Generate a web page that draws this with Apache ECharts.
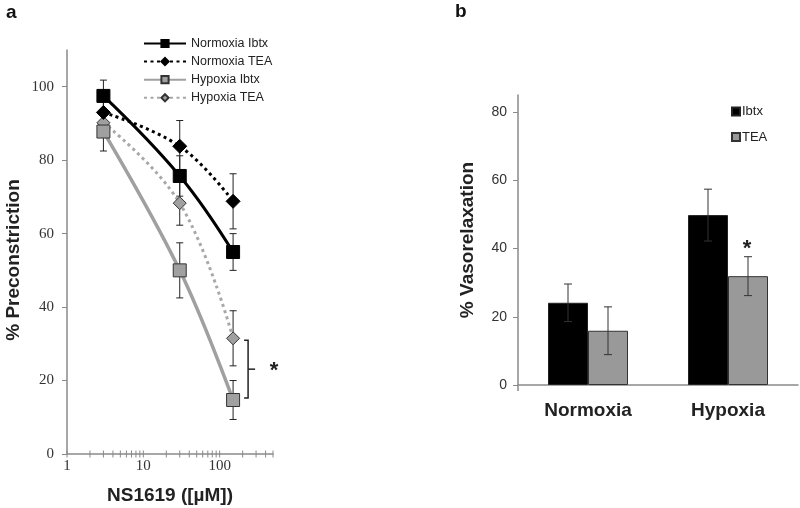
<!DOCTYPE html>
<html>
<head>
<meta charset="utf-8">
<script src="https://cdn.jsdelivr.net/npm/echarts@6/dist/echarts.min.js"></script>
<style>html,body{margin:0;padding:0;background:#fff}#c{width:800px;height:508px}</style>
</head>
<body>
<div id="c"></div>
<script>
// ---- Panel a data ----
const doses = [3, 30, 150];
const normIbtx = [97.5, 75.7, 55.0];
const normIbtxErr = [4.3, 5.5, 5.0];
const normTEA = [93.0, 83.8, 68.8];
const normTEAErr = [3.0, 7.0, 7.5];
const hypIbtx = [87.8, 50.0, 14.7];
const hypIbtxErr = [5.3, 7.5, 5.3];
const hypTEA = [90.2, 68.3, 31.5];
const hypTEAErr = [3.5, 6.0, 7.5];
const xMajorTicks = [1, 10, 100];
const xMinorTicks = [2,3,4,5,6,7,8,9,20,30,40,50,60,70,80,90,200,300,400,500];
const yTicksA = [0, 20, 40, 60, 80, 100];

// ---- Panel b data ----
const groups = ['Normoxia', 'Hypoxia'];
const ibtx = [24.1, 49.8];
const ibtxErr = [5.5, 7.6];
const tea = [15.9, 31.9];
const teaErr = [7.0, 5.7];
const yTicksB = [0, 20, 40, 60, 80];

const GRAY = '#a0a0a0';
const AXIS = '#8a8a8a';
const sans = 'Liberation Sans, Arial, sans-serif';

function pts(vals) { return doses.map((d, i) => [d, vals[i]]); }
function errs(vals, e) { return doses.map((d, i) => [d, vals[i] - e[i], vals[i] + e[i]]); }

function errRender(params, api) {
  const x = api.value(0), lo = api.value(1), hi = api.value(2);
  const a = api.coord([x, lo]), b = api.coord([x, hi]);
  const w = 3.5;
  const st = { stroke: '#222', lineWidth: 1 };
  return { type: 'group', children: [
    { type: 'line', shape: { x1: a[0], y1: a[1], x2: b[0], y2: b[1] }, style: st },
    { type: 'line', shape: { x1: a[0] - w, y1: a[1], x2: a[0] + w, y2: a[1] }, style: st },
    { type: 'line', shape: { x1: b[0] - w, y1: b[1], x2: b[0] + w, y2: b[1] }, style: st }
  ]};
}

function barErrRender(offset) {
  return function (params, api) {
    const c = api.value(0), lo = api.value(1), hi = api.value(2);
    const a = api.coord([c, lo]), b = api.coord([c, hi]);
    const x = a[0] + offset, w = 4;
    const st = { stroke: '#333', lineWidth: 1 };
    return { type: 'group', children: [
      { type: 'line', shape: { x1: x, y1: a[1], x2: x, y2: b[1] }, style: st },
      { type: 'line', shape: { x1: x - w, y1: a[1], x2: x + w, y2: a[1] }, style: st },
      { type: 'line', shape: { x1: x - w, y1: b[1], x2: x + w, y2: b[1] }, style: st }
    ]};
  };
}

const chart = echarts.init(document.getElementById('c'), null, { renderer: 'canvas' });

const option = {
  animation: false,
  backgroundColor: '#fff',
  grid: [
    { left: 67, top: 50, width: 206, height: 404, outerBoundsMode: 'none', containLabel: false },
    { left: 518, top: 95, width: 280, height: 290, outerBoundsMode: 'none', containLabel: false }
  ],
  legend: [
    {
      data: ['Normoxia Ibtx', 'Normoxia TEA', 'Hypoxia Ibtx', 'Hypoxia TEA'],
      orient: 'vertical', left: 138, top: 32, itemWidth: 42, itemHeight: 9, itemGap: 5.1,
      textStyle: { fontFamily: sans, fontSize: 12.5, color: '#222' }
    },
    {
      data: ['Ibtx', 'TEA'],
      orient: 'vertical', left: 726, top: 100, itemWidth: 8, itemHeight: 8, itemGap: 12.5, icon: 'rect',
      textStyle: { fontFamily: sans, fontSize: 13, color: '#222', padding: [0, 0, 0, -3] }
    }
  ],
  xAxis: [
    {
      gridIndex: 0, type: 'log', logBase: 10, min: 1, max: 500,
      name: 'NS1619 ([µM])', nameLocation: 'middle', nameGap: 32,
      nameTextStyle: { fontFamily: sans, fontWeight: 'bold', fontSize: 19, color: '#222' },
      axisLine: { lineStyle: { color: AXIS, width: 1.5 } },
      axisTick: { show: false },
      splitLine: { show: false },
      axisLabel: {
        margin: 5, fontFamily: 'Liberation Serif, serif', fontSize: 15, color: '#333',
        formatter: v => xMajorTicks.includes(Math.round(v)) ? String(Math.round(v)) : ''
      }
    },
    {
      gridIndex: 1, type: 'category', data: groups,
      axisLine: { lineStyle: { color: AXIS, width: 1.5 } },
      axisTick: { show: false },
      axisLabel: { margin: 16, fontFamily: sans, fontWeight: 'bold', fontSize: 19, color: '#222' }
    }
  ],
  yAxis: [
    {
      gridIndex: 0, type: 'value', min: 0, max: 110, interval: 20,
      name: '% Preconstriction', nameLocation: 'middle', nameGap: 44, nameRotate: 90,
      nameTextStyle: { fontFamily: sans, fontWeight: 'bold', fontSize: 19, color: '#222', padding: [0, 16, 0, 0] },
      axisLine: { show: true, lineStyle: { color: AXIS, width: 1.5 } },
      axisTick: { show: true, length: 5, lineStyle: { color: AXIS }, customValues: yTicksA },
      splitLine: { show: false },
      axisLabel: {
        margin: 13, fontFamily: 'Liberation Serif, serif', fontSize: 15, color: '#333',
        formatter: v => yTicksA.includes(v) ? String(v) : ''
      }
    },
    {
      gridIndex: 1, type: 'value', min: 0, max: 85, interval: 20,
      name: '% Vasorelaxation', nameLocation: 'middle', nameGap: 41, nameRotate: 90,
      nameTextStyle: { fontFamily: sans, fontWeight: 'bold', fontSize: 19, color: '#222' },
      axisLine: { show: true, lineStyle: { color: AXIS, width: 1.5 } },
      axisTick: { show: true, length: 5, lineStyle: { color: AXIS }, customValues: yTicksB },
      splitLine: { show: false },
      axisLabel: {
        margin: 11, fontFamily: sans, fontSize: 14, color: '#333',
        formatter: v => yTicksB.includes(v) ? String(v) : ''
      }
    }
  ],
  series: [
    // x-axis log ticks crossing the axis
    {
      type: 'custom', xAxisIndex: 0, yAxisIndex: 0, silent: true, z: 1,
      data: xMajorTicks.concat(xMinorTicks).map(v => [v, 0]),
      renderItem: (params, api) => {
        const p = api.coord([api.value(0), 0]);
        return { type: 'line', shape: { x1: p[0], y1: p[1] - 3.5, x2: p[0], y2: p[1] + 3.5 }, style: { stroke: AXIS, lineWidth: 1 } };
      }
    },
    // error bars panel a
    { type: 'custom', xAxisIndex: 0, yAxisIndex: 0, silent: true, z: 1, data: errs(normIbtx, normIbtxErr), renderItem: errRender },
    { type: 'custom', xAxisIndex: 0, yAxisIndex: 0, silent: true, z: 1, data: errs(normTEA, normTEAErr), renderItem: errRender },
    { type: 'custom', xAxisIndex: 0, yAxisIndex: 0, silent: true, z: 1, data: errs(hypIbtx, hypIbtxErr), renderItem: errRender },
    { type: 'custom', xAxisIndex: 0, yAxisIndex: 0, silent: true, z: 1, data: errs(hypTEA, hypTEAErr), renderItem: errRender },
    {
      name: 'Hypoxia TEA', type: 'line', xAxisIndex: 0, yAxisIndex: 0, data: pts(hypTEA), smooth: 0.4,
      symbol: 'diamond', symbolSize: 13, z: 3,
      lineStyle: { color: '#a8a8a8', width: 3, type: [3, 3.5] },
      itemStyle: { color: GRAY, borderColor: '#333', borderWidth: 1 }
    },
    {
      name: 'Hypoxia Ibtx', type: 'line', xAxisIndex: 0, yAxisIndex: 0, data: pts(hypIbtx), smooth: 0.4,
      symbol: 'rect', symbolSize: 13, z: 3,
      lineStyle: { color: GRAY, width: 3.5 },
      itemStyle: { color: GRAY, borderColor: '#333', borderWidth: 1 }
    },
    {
      name: 'Normoxia TEA', type: 'line', xAxisIndex: 0, yAxisIndex: 0, data: pts(normTEA), smooth: 0.4,
      symbol: 'diamond', symbolSize: 14, z: 4,
      lineStyle: { color: '#000', width: 3, type: [3, 3.5] },
      itemStyle: { color: '#000', borderColor: '#000', borderWidth: 1 }
    },
    {
      name: 'Normoxia Ibtx', type: 'line', xAxisIndex: 0, yAxisIndex: 0, data: pts(normIbtx), smooth: 0.4,
      symbol: 'rect', symbolSize: 13, z: 4,
      lineStyle: { color: '#000', width: 3 },
      itemStyle: { color: '#000', borderColor: '#000', borderWidth: 1 }
    },
    // panel b bars
    {
      name: 'Ibtx', type: 'bar', xAxisIndex: 1, yAxisIndex: 1, data: ibtx, barWidth: 40, barGap: '0%',
      itemStyle: { color: '#000', borderColor: '#222', borderWidth: 1 }
    },
    {
      name: 'TEA', type: 'bar', xAxisIndex: 1, yAxisIndex: 1, data: tea, barWidth: 40, barGap: '0%',
      itemStyle: { color: '#999999', borderColor: '#333', borderWidth: 1 }
    },
    { type: 'custom', xAxisIndex: 1, yAxisIndex: 1, silent: true, z: 5,
      data: ibtx.map((v, i) => [i, v - ibtxErr[i], v + ibtxErr[i]]), renderItem: barErrRender(-20) },
    { type: 'custom', xAxisIndex: 1, yAxisIndex: 1, silent: true, z: 5,
      data: tea.map((v, i) => [i, v - teaErr[i], v + teaErr[i]]), renderItem: barErrRender(20) }
  ]
};
chart.setOption(option);

// annotations positioned from the axes
const pTop = chart.convertToPixel({ xAxisIndex: 0, yAxisIndex: 0 }, [doses[2], hypTEA[2]]);
const pBot = chart.convertToPixel({ xAxisIndex: 0, yAxisIndex: 0 }, [doses[2], hypIbtx[2]]);
const bx = pTop[0] + 15;
const midY = (pTop[1] + pBot[1]) / 2;
const pB = chart.convertToPixel({ xAxisIndex: 1, yAxisIndex: 1 }, [1, tea[1] + teaErr[1]]);
const zeroB = chart.convertToPixel({ xAxisIndex: 1, yAxisIndex: 1 }, [0, 0]);
const gridBLeft = 518;

chart.setOption({
  graphic: [
    { type: 'text', left: 6, top: 3, style: { text: 'a', font: 'bold 19px ' + sans, fill: '#111' } },
    { type: 'text', left: 455, top: 2, style: { text: 'b', font: 'bold 19px ' + sans, fill: '#111' } },
    { type: 'polyline', shape: { points: [[bx - 4, pTop[1] + 2], [bx, pTop[1] + 2], [bx, pBot[1] - 2], [bx - 4, pBot[1] - 2]] },
      style: { stroke: '#222', lineWidth: 1.5, fill: null } },
    { type: 'line', shape: { x1: bx, y1: midY, x2: bx + 7, y2: midY }, style: { stroke: '#222', lineWidth: 1.5 } },
    { type: 'text', x: bx + 26, y: midY + 2, style: { text: '*', font: 'bold 22px ' + sans, fill: '#222', align: 'center', verticalAlign: 'middle' } },
    { type: 'text', x: pB[0] + 19, y: pB[1] - 8, style: { text: '*', font: 'bold 22px ' + sans, fill: '#222', align: 'center', verticalAlign: 'middle' } },
    { type: 'line', shape: { x1: gridBLeft, y1: zeroB[1], x2: gridBLeft, y2: zeroB[1] + 6 }, style: { stroke: AXIS, lineWidth: 1.5 } }
  ]
});
</script>
</body>
</html>
